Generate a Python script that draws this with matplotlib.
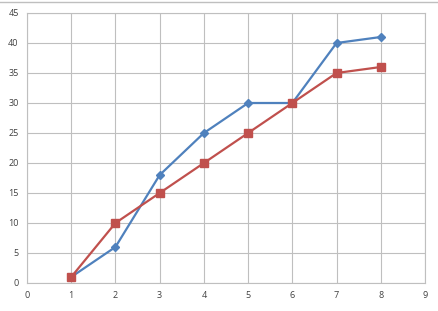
import matplotlib.pyplot as plt
from matplotlib.lines import Line2D

x_vals = [1, 2, 3, 4, 5, 6, 7, 8]
blue_vals = [1, 6, 18, 25, 30, 30, 40, 41]
red_vals = [1, 10, 15, 20, 25, 30, 35, 36]

plt.rcParams['font.family'] = ['Open Sans', 'DejaVu Sans']

fig = plt.figure(figsize=(4.39, 3.11), dpi=100)
ax = fig.add_axes([27 / 439, 1 - 283 / 311, (425 - 27) / 439, (283 - 13) / 311])

ax.plot(x_vals, blue_vals, color='#4F81BD', lw=1.6, marker='D', ms=4.5, zorder=3)
ax.plot(x_vals, red_vals, color='#C0504D', lw=1.6, marker='s', ms=6, zorder=3)

ax.set_xlim(0, 9)
ax.set_ylim(0, 45)
ax.set_xticks(range(0, 10))
ax.set_yticks(range(0, 50, 5))
ax.grid(color='#BFBFBF', lw=0.8)
ax.set_axisbelow(True)
for s in ax.spines.values():
    s.set_color('#BFBFBF')
    s.set_linewidth(0.8)
ax.tick_params(length=0, labelsize=6.5, labelcolor='#404040', pad=6)

# thin gray border line at the top of the picture
fig.add_artist(Line2D([0, 1], [1 - 2 / 311, 1 - 2 / 311], color='#BFBFBF', lw=1))

fig.savefig('out.png', dpi=100)
